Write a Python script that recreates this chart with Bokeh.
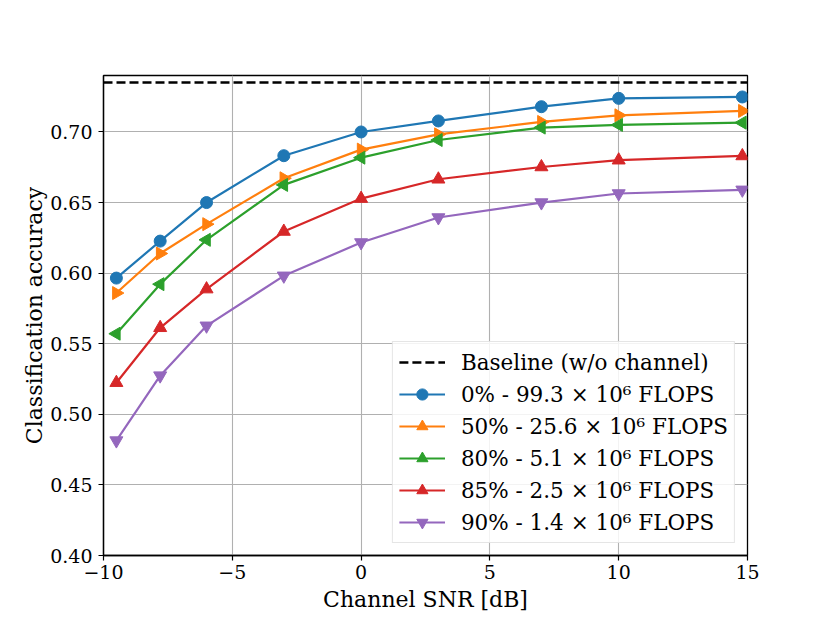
import math
from bokeh.plotting import figure
from bokeh.models import Range1d, Legend, LegendItem, FixedTicker, NumeralTickFormatter
from bokeh.embed import file_html
from bokeh.resources import INLINE

# ---- data ----
snr = [-9.5, -7.8, -6, -3, 0, 3, 7, 10, 14.8]
baseline = 0.735
acc_0 = [0.5965, 0.6227, 0.650, 0.6832, 0.700, 0.7078, 0.7179, 0.7238, 0.7248]
acc_50 = [0.5859, 0.6139, 0.6347, 0.6672, 0.6875, 0.6983, 0.7071, 0.7118, 0.7149]
acc_80 = [0.5571, 0.5922, 0.6236, 0.6625, 0.6818, 0.6943, 0.7031, 0.7050, 0.7066]
acc_85 = [0.5224, 0.5613, 0.5887, 0.6295, 0.6528, 0.6665, 0.6752, 0.6800, 0.6830]
acc_90 = [0.4814, 0.5274, 0.5627, 0.5981, 0.6217, 0.6394, 0.6500, 0.6564, 0.6590]

labels = [
    "0% - 99.3 × 10⁶ FLOPS",
    "50% - 25.6 × 10⁶ FLOPS",
    "80% - 5.1 × 10⁶ FLOPS",
    "85% - 2.5 × 10⁶ FLOPS",
    "90% - 1.4 × 10⁶ FLOPS",
]
baseline_label = "Baseline (w/o channel)"
x_ticks = [-10, -5, 0, 5, 10, 15]
y_ticks = [0.40, 0.45, 0.50, 0.55, 0.60, 0.65, 0.70]
x_lim = (-10, 15)
y_lim = (0.40, 0.74)

colors = ["#1f77b4", "#ff7f0e", "#2ca02c", "#d62728", "#9467bd"]
markers = ["circle", "triangle", "triangle", "triangle", "inverted_triangle"]
angles = [0, -math.pi / 2, math.pi / 2, 0, 0]
sizes = [12, 13, 13, 13, 13]
series = [acc_0, acc_50, acc_80, acc_85, acc_90]

FONT = "DejaVu Serif"

p = figure(
    frame_width=644, frame_height=480,
    min_border_left=103, min_border_top=75, min_border_right=20, min_border_bottom=20,
    x_range=Range1d(*x_lim), y_range=Range1d(*y_lim),
    output_backend="svg", toolbar_location=None,
    background_fill_color="white", border_fill_color="white",
)

p.outline_line_color = "black"
p.outline_line_width = 1.3
p.outline_line_alpha = 1.0

for ax in (p.xaxis[0], p.yaxis[0]):
    ax.axis_line_color = "black"
    ax.axis_line_width = 1.3
    ax.major_tick_line_color = "black"
    ax.major_tick_line_width = 1.2
    ax.major_tick_out = 5
    ax.major_tick_in = 0
    ax.minor_tick_line_color = None
    ax.major_label_text_font = FONT
    ax.major_label_text_font_size = "19px"
    ax.major_label_text_color = "black"
    ax.axis_label_text_font = FONT
    ax.axis_label_text_font_size = "22px"
    ax.axis_label_text_font_style = "normal"
    ax.axis_label_text_color = "black"

p.xaxis.ticker = FixedTicker(ticks=x_ticks)
p.xaxis.major_label_overrides = {t: (("−" + str(abs(t))) if t < 0 else str(t)) for t in x_ticks}
p.yaxis.ticker = FixedTicker(ticks=y_ticks)
p.yaxis.formatter = NumeralTickFormatter(format="0.00")
p.xaxis.axis_label = "Channel SNR [dB]"
p.yaxis.axis_label = "Classification accuracy"
p.xaxis.major_label_standoff = 4
p.yaxis.major_label_standoff = 6
p.xaxis.axis_label_standoff = 5
p.yaxis.axis_label_standoff = 0

p.xgrid.ticker = FixedTicker(ticks=x_ticks)
p.ygrid.ticker = FixedTicker(ticks=y_ticks)
for g in (p.xgrid[0], p.ygrid[0]):
    g.grid_line_color = "#b0b0b0"
    g.grid_line_width = 1.1

items = []
bl = p.line(list(x_lim), [baseline, baseline], line_color="black", line_width=2.4, line_dash="9 4")
items.append(LegendItem(label=baseline_label, renderers=[bl]))

for ys, c, m, a, s, lab in zip(series, colors, markers, angles, sizes, labels):
    lr = p.line(snr, ys, line_color=c, line_width=2.2)
    sr = p.scatter(snr, ys, marker=m, angle=a, size=s, fill_color=c, line_color=c, line_width=1)
    items.append(LegendItem(label=lab, renderers=[lr, sr]))

legend = Legend(items=items, location="bottom_right")
legend.label_text_font = FONT
legend.label_text_font_size = "21.5px"
legend.label_text_color = "black"
legend.glyph_width = 46
legend.glyph_height = 28
legend.label_height = 28
legend.label_standoff = 16
legend.spacing = 4
legend.padding = 6
legend.margin = 12
legend.border_line_color = "#cccccc"
legend.border_line_width = 1.2
legend.background_fill_alpha = 0.85
p.add_layout(legend)

open("out.html", "w").write(file_html(p, INLINE))
